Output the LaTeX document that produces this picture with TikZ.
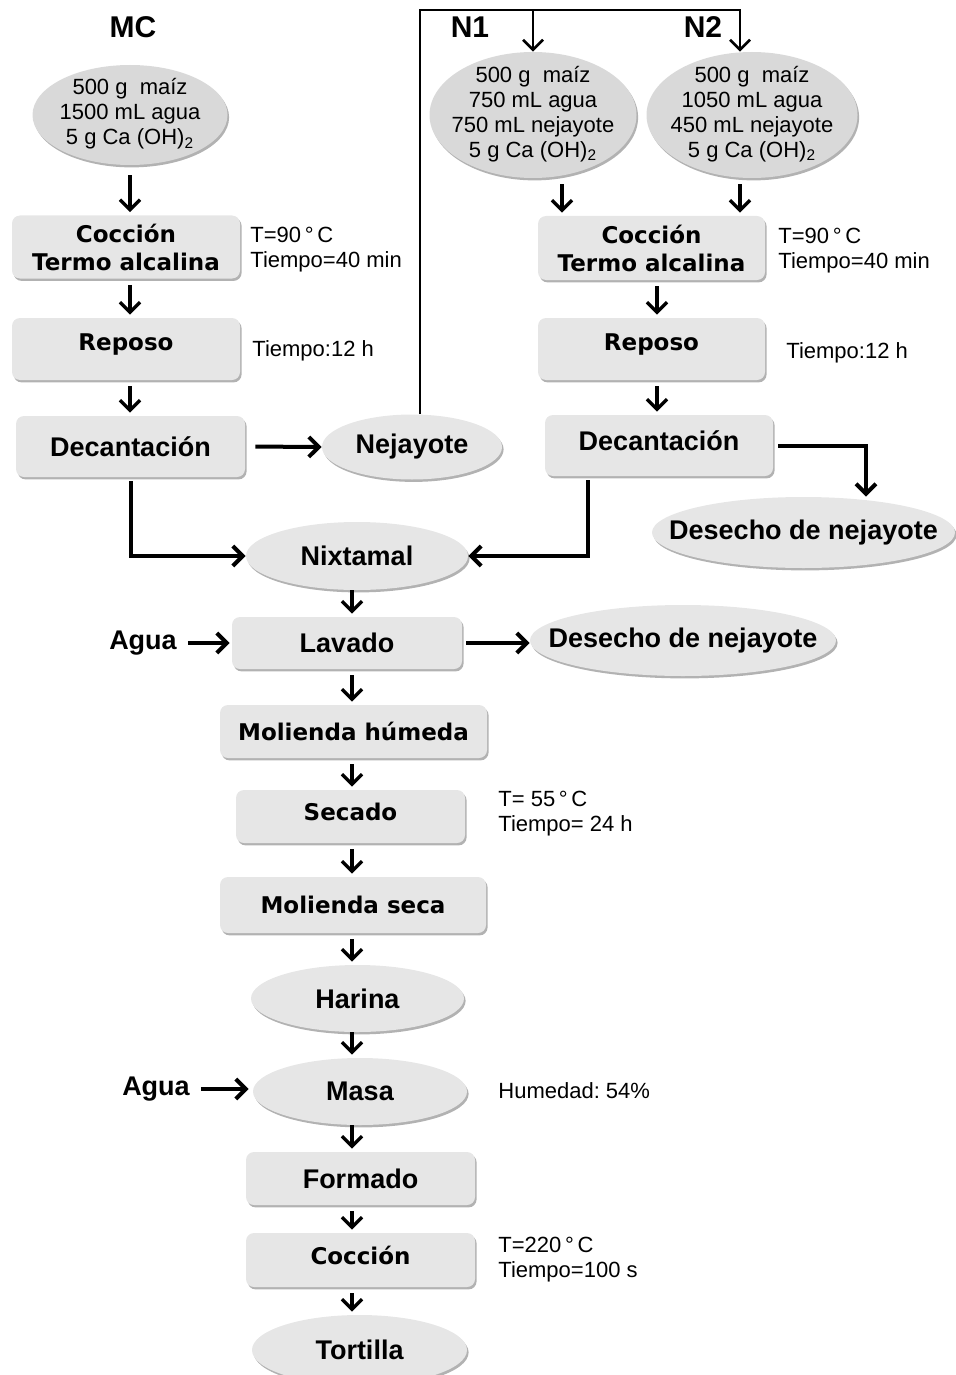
\documentclass[tikz,border=0pt]{standalone}
\usepackage{fontspec}
\setmainfont{Liberation Sans}
\newfontfamily\verd{DejaVu Sans}
\usetikzlibrary{shapes.geometric,arrows.meta,shadows}
\definecolor{boxgray}{HTML}{E6E6E6}
\definecolor{topgray}{HTML}{D9D9D9}
\newcommand\zb[1]{\makebox[0pt]{#1}}
\newcommand\zt[1]{\makebox[0pt]{\begin{tabular}{@{}c@{}}#1\end{tabular}}}
\begin{document}
\begin{tikzpicture}[x=0.5pt,y=-0.5pt,
  tex/.style={fill=boxgray, draw=none,
    drop shadow={shadow xshift=0.8pt,shadow yshift=-1.2pt,opacity=0.3,fill=black}},
  box/.style={tex, rectangle, rounded corners=4pt, inner sep=0pt, align=center},
  ell/.style={tex, ellipse, inner xsep=0pt, inner ysep=-4pt, align=center},
  topell/.style={ell, fill=topgray},
  wb/.style={font=\verd\bfseries\fontsize{11.5}{14}\selectfont},
  ab/.style={font=\bfseries\fontsize{13.5}{16}\selectfont},
  ttl/.style={font=\bfseries\fontsize{15}{18}\selectfont},
  reg/.style={font=\fontsize{11}{12.5}\selectfont},
  ann/.style={reg, anchor=west, align=left, inner sep=0pt},
  tip/.style={-{Straight Barb[length=5pt,width=10pt]}},
  varr/.style={line width=1.7pt, tip, shorten <=3pt, shorten >=1.5pt},
  tarr/.style={line width=2pt, tip},
  lp/.style={line width=1.3pt},
]
\useasboundingbox (0,0) rectangle (956,1375);

% titles
\node[ttl] (mcT) at (133,27) {MC};
\node[ttl] (n1T) at (470,27) {N1};
\node[ttl] (n2T) at (703,27) {N2};

% left column
\node[topell, reg, minimum width=195*0.5pt, minimum height=100*0.5pt] (mc) at (130,115)
  {\zt{500 g\ \ maíz\\1500 mL agua\\5 g Ca (OH)\textsubscript{2}}};
\node[box, wb, minimum width=228*0.5pt, minimum height=63*0.5pt] (cocL) at (126,247)
  {Cocción\\Termo alcalina};
\node[box, wb, minimum width=228*0.5pt, minimum height=62*0.5pt, text depth=7pt] (repL) at (126,349) {Reposo};
\node[box, ab, minimum width=229*0.5pt, minimum height=61*0.5pt] (decL) at (130.5,446.5) {Decantación};
\node[ell, ab, minimum width=180*0.5pt, minimum height=65*0.5pt] (nej) at (412,447) {\zb{Nejayote}};

\node[ann] (aL1) at (250,250) {T=90\,°\,C\\Tiempo=40 min};
\node[ann] (aL2) at (252,351) {Tiempo:12 h};

% right column
\node[topell, reg, minimum width=207*0.5pt, minimum height=126*0.5pt] (n1) at (533,115)
  {\zt{500 g\ \ maíz\\750 mL agua\\750 mL nejayote\\5 g Ca (OH)\textsubscript{2}}};
\node[topell, reg, minimum width=211*0.5pt, minimum height=126*0.5pt] (n2) at (752,115)
  {\zt{500 g\ \ maíz\\1050 mL agua\\450 mL nejayote\\5 g Ca (OH)\textsubscript{2}}};
\node[box, wb, minimum width=227*0.5pt, minimum height=64*0.5pt] (cocR) at (651.5,248)
  {Cocción\\Termo alcalina};
\node[box, wb, minimum width=227*0.5pt, minimum height=62*0.5pt, text depth=7pt] (repR) at (651.5,349) {Reposo};
\node[box, ab, minimum width=228*0.5pt, minimum height=61*0.5pt, text depth=5pt] (decR) at (659,445.5) {Decantación};
\node[ell, ab, minimum width=303*0.5pt, minimum height=71*0.5pt] (desR) at (803.5,532.5) {\zb{Desecho de nejayote}};

\node[ann] (aR1) at (778,251) {T=90\,°\,C\\Tiempo=40 min};
\node[ann] (aR2) at (786,353) {Tiempo:12 h};

% main chain
\node[ell, ab, minimum width=222*0.5pt, minimum height=68*0.5pt] (nix) at (357,556) {\zb{Nixtamal}};
\node[box, ab, minimum width=230*0.5pt, minimum height=52*0.5pt] (lav) at (347,643) {Lavado};
\node[ab] (agua1) at (143,643) {Agua};
\node[ell, ab, minimum width=306*0.5pt, minimum height=71*0.5pt] (des2) at (683,640.5) {\zb{Desecho de nejayote}};
\node[box, wb, minimum width=267*0.5pt, minimum height=53*0.5pt] (molh) at (353.5,731.5) {Molienda húmeda};
\node[box, wb, minimum width=229*0.5pt, minimum height=53*0.5pt, text depth=5pt] (sec) at (350.5,816.5) {Secado};
\node[ann] (aS) at (498,814) {T=\ 55\,°\,C\\Tiempo=\ 24 h};
\node[box, wb, minimum width=266*0.5pt, minimum height=56*0.5pt] (mols) at (353,905) {Molienda seca};
\node[ell, ab, minimum width=213*0.5pt, minimum height=67*0.5pt] (har) at (357.5,998.5) {\zb{Harina}};
\node[ell, ab, minimum width=214*0.5pt, minimum height=67*0.5pt] (masa) at (360,1091.5) {\zb{Masa}};
\node[ab] (agua2) at (156,1089) {Agua};
\node[ann] (aM) at (498,1091) {Humedad:\ 54\%};
\node[box, ab, minimum width=229*0.5pt, minimum height=53*0.5pt] (form) at (360.5,1178.5) {Formado};
\node[box, wb, minimum width=229*0.5pt, minimum height=54*0.5pt, text depth=5pt] (coc) at (360.5,1260) {Cocción};
\node[ann] (aC) at (498,1260) {T=220\,°\,C\\Tiempo=100 s};
\node[ell, ab, minimum width=215*0.5pt, minimum height=70*0.5pt] (tort) at (359.5,1350) {\zb{Tortilla}};

% helper coordinates
\coordinate (top) at (420,10);
\coordinate (x562) at (562,0);
\coordinate (x740) at (740,0);
\coordinate (x588) at (588,0);
\coordinate (x866) at (866,0);
\coordinate (x130) at (130,0);
\coordinate (x657) at (657,0);
\coordinate (x352) at (352,0);

% left column arrows
\draw[varr, shorten <=5pt] (mc.south) -- (mc.south |- cocL.north);
\draw[varr] (cocL.south -| x130) -- (x130 |- repL.north);
\draw[varr] (repL.south -| x130) -- (x130 |- decL.north);
\draw[tarr, shorten <=5pt] (decL.east) -- (nej.west);
\draw[tarr, shorten <=2pt] (decL.south) |- (nix.west);

% nejayote recirculation
\draw[lp, tip] (nej.north -| top) -- (top) -| (x740 |- n2.north);
\draw[lp, tip] (top -| n1.north) -- (n1.north);

% right column arrows
\draw[varr] (n1.south -| x562) -- (x562 |- cocR.north);
\draw[varr] (n2.south -| x740) -- (x740 |- cocR.north);
\draw[varr] (cocR.south -| x657) -- (x657 |- repR.north);
\draw[varr] (repR.south -| x657) -- (x657 |- decR.north);
\draw[tarr, shorten <=2.5pt] (decR.east) -| (x866 |- desR.north);
\draw[tarr, shorten <=2pt] (decR.south -| x588) |- (nix.east);

% main chain arrows
\draw[varr, shorten <=0pt] (nix.south -| x352) -- (x352 |- lav.north);
\draw[tarr, shorten <=2pt, shorten >=1pt] (agua1.east) -- (agua1.east -| lav.west);
\draw[tarr, shorten <=2pt] (lav.east) -- (lav.east -| des2.west);
\draw[varr] (lav.south -| x352) -- (x352 |- molh.north);
\draw[varr] (molh.south -| x352) -- (x352 |- sec.north);
\draw[varr] (sec.south -| x352) -- (x352 |- mols.north);
\draw[varr] (mols.south -| x352) -- (x352 |- har.north);
\draw[varr, shorten <=0pt] (har.south -| x352) -- (x352 |- masa.north);
\draw[tarr, shorten <=2pt, shorten >=2pt] (agua2.east) -- (agua2.east -| masa.west);
\draw[varr, shorten <=0pt] (masa.south -| x352) -- (x352 |- form.north);
\draw[varr] (form.south -| x352) -- (x352 |- coc.north);
\draw[varr] (coc.south -| x352) -- (x352 |- tort.north);
\end{tikzpicture}
\end{document}
